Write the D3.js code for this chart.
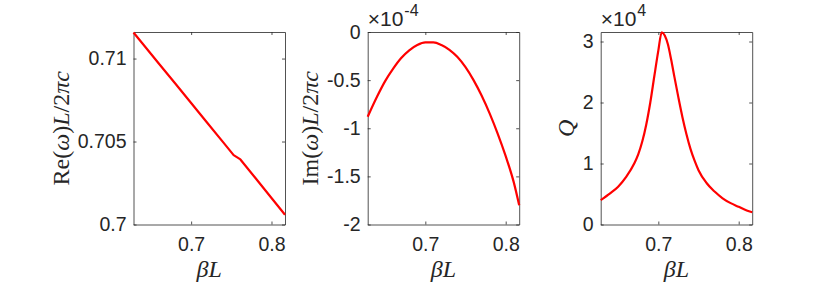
<!DOCTYPE html>
<html>
<head>
<meta charset="utf-8">
<script src="https://cdn.jsdelivr.net/npm/d3@7"></script>
<style>
  body { margin: 0; background: #fff; }
</style>
</head>
<body>
<svg id="fig" width="830" height="284"></svg>
<script>
// x range is 0.2*pi .. 0.26*pi
const betaRange = [0.6283, 0.8168];
const xTicks = [0.7, 0.8];

// Re(omega) L / 2 pi c
const betaRe = [0.6283, 0.64, 0.66, 0.68, 0.70, 0.72, 0.74, 0.7529, 0.7613, 0.78, 0.80, 0.8168];
const reValues = [0.71157, 0.71088, 0.70969, 0.70851, 0.70732, 0.70613, 0.70495, 0.70418, 0.70392, 0.70280, 0.70160, 0.70059];
const reTicks = [0.7, 0.705, 0.71];

// Im(omega) L / 2 pi c, in units of 1e-4
const betaIm = [0.6283, 0.64, 0.65, 0.66, 0.67, 0.68, 0.69, 0.70, 0.71, 0.72, 0.73, 0.74, 0.75, 0.76, 0.77, 0.78, 0.79, 0.80, 0.81, 0.8168];
const imValues = [-0.88, -0.67, -0.51, -0.38, -0.27, -0.19, -0.135, -0.108, -0.108, -0.135, -0.185, -0.26, -0.365, -0.50, -0.66, -0.845, -1.055, -1.29, -1.56, -1.80];
const imTicks = [0, -0.5, -1, -1.5, -2];

// Q, in units of 1e4
const betaQ = [0.6283, 0.64, 0.65, 0.66, 0.67, 0.675, 0.68, 0.685, 0.69, 0.695, 0.70, 0.7042, 0.708, 0.712, 0.716, 0.72, 0.725, 0.73, 0.735, 0.74, 0.745, 0.75, 0.76, 0.77, 0.78, 0.79, 0.80, 0.81, 0.8168];
const qValues = [0.40, 0.51, 0.62, 0.78, 1.00, 1.15, 1.36, 1.64, 2.00, 2.43, 2.85, 3.15, 3.10, 2.95, 2.70, 2.42, 2.08, 1.76, 1.48, 1.24, 1.05, 0.89, 0.68, 0.54, 0.43, 0.35, 0.29, 0.23, 0.20];
const qTicks = [0, 1, 2, 3];

const W = 830, H = 284;
const plotTop = 32, plotBottom = 224.5, panelW = 151.5;
const axisColor = '#262626';
const tickFont = '"Liberation Sans", Arial, sans-serif';
const mathFont = '"Liberation Serif", "Times New Roman", serif';

const svg = d3.select('#fig');
svg.append('rect').attr('width', W).attr('height', H).attr('fill', '#fff');

function panel({left, xs, ys, yDomain, yTicks, yLabel, exponent, curve}) {
  const x = d3.scaleLinear(betaRange, [left, left + panelW]);
  const y = d3.scaleLinear(yDomain, [plotBottom, plotTop]);
  const g = svg.append('g');

  // 박스 + 안쪽 눈금
  const styleAxis = a => {
    a.selectAll('.domain, .tick line').attr('stroke', axisColor).attr('stroke-width', 0.8);
    a.selectAll('text').attr('font-family', tickFont).attr('font-size', 19.5).attr('fill', axisColor);
  };
  g.append('g').attr('transform', `translate(0,${plotBottom})`)
    .call(d3.axisBottom(x).tickValues(xTicks).tickSizeInner(-3).tickSizeOuter(0).tickPadding(13).tickFormat(d => String(d)))
    .call(styleAxis);
  g.append('g').attr('transform', `translate(0,${plotTop})`)
    .call(d3.axisTop(x).tickValues(xTicks).tickSizeInner(-3).tickSizeOuter(0).tickFormat(''))
    .call(styleAxis);
  const yAxisG = g.append('g').attr('transform', `translate(${left},0)`)
    .call(d3.axisLeft(y).tickValues(yTicks).tickSizeInner(-3).tickSizeOuter(0).tickPadding(7).tickFormat(d => String(d)))
    .call(styleAxis);
  g.append('g').attr('transform', `translate(${left + panelW},0)`)
    .call(d3.axisRight(y).tickValues(yTicks).tickSizeInner(-3).tickSizeOuter(0).tickFormat(''))
    .call(styleAxis);

  // 데이터 선
  g.append('path')
    .datum(xs.map((b, i) => [b, ys[i]]))
    .attr('fill', 'none')
    .attr('stroke', '#ff0000')
    .attr('stroke-width', 2.2)
    .attr('stroke-linejoin', 'round')
    .attr('d', d3.line().x(d => x(d[0])).y(d => y(d[1])).curve(curve || d3.curveMonotoneX));

  // x축 레이블
  const xl = g.append('text')
    .attr('x', left + panelW / 2).attr('y', 277)
    .attr('text-anchor', 'middle')
    .attr('font-family', mathFont).attr('font-size', 24).attr('fill', axisColor);
  xl.append('tspan').attr('font-style', 'italic').text('βL');

  // y축 레이블 (틱 레이블 폭 기준으로 위치)
  let maxW = 0;
  yAxisG.selectAll('text').each(function() { maxW = Math.max(maxW, this.getBBox().width); });
  const lx = left - 7 - maxW - 9;
  const yl = g.append('text')
    .attr('transform', `translate(${lx},${(plotTop + plotBottom) / 2}) rotate(-90)`)
    .attr('text-anchor', 'middle')
    .attr('font-family', mathFont).attr('font-size', 24).attr('fill', axisColor);
  yLabel.forEach(([t, it]) => {
    yl.append('tspan').attr('font-style', it ? 'italic' : 'normal').text(t);
  });

  // 지수 표시
  if (exponent) {
    const ex = g.append('text')
      .attr('x', left).attr('y', 26)
      .attr('font-family', tickFont).attr('font-size', 21).attr('fill', axisColor);
    ex.append('tspan').text('×10');
    ex.append('tspan').attr('dy', -10).attr('dx', 1).attr('font-size', 16).text(exponent);
  }
}

panel({
  left: 133.5, xs: betaRe, ys: reValues, yDomain: [0.7, 0.7116], yTicks: reTicks,
  yLabel: [['Re(', 0], ['ω', 1], [')', 0], ['L', 1], ['/2', 0], ['π', 1], ['c', 1]],
  curve: d3.curveLinear
});
panel({
  left: 367.7, xs: betaIm, ys: imValues, yDomain: [-2, 0], yTicks: imTicks,
  yLabel: [['Im(', 0], ['ω', 1], [')', 0], ['L', 1], ['/2', 0], ['π', 1], ['c', 1]],
  exponent: '-4'
});
panel({
  left: 600.7, xs: betaQ, ys: qValues, yDomain: [0, 3.156], yTicks: qTicks,
  yLabel: [['Q', 1]],
  exponent: '4'
});
</script>
</body>
</html>
